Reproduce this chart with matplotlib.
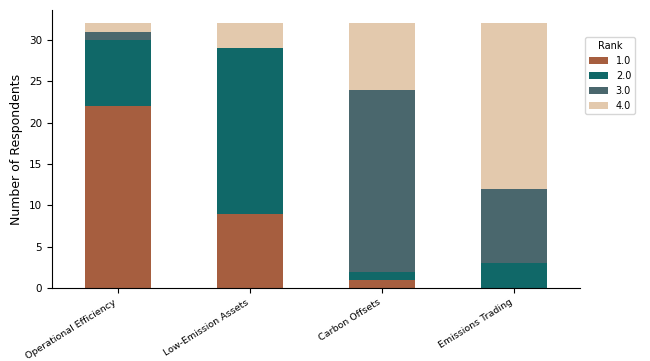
import numpy as np
import matplotlib.pyplot as plt

categories = ["Operational Efficiency", "Low-Emission Assets", "Carbon Offsets", "Emissions Trading"]
ranks = ["1.0", "2.0", "3.0", "4.0"]
rank1 = [22, 9, 1, 0]
rank2 = [8, 20, 1, 3]
rank3 = [1, 0, 22, 9]
rank4 = [1, 3, 8, 20]
colors = ["#A65E3F", "#106868", "#4A676D", "#E3C9AD"]

fig = plt.figure(figsize=(6.5, 3.61), dpi=100)
ax = fig.add_axes([0.08, 0.202, 0.812, 0.77])

x = np.arange(len(categories))
bottom = np.zeros(len(categories))
for label, vals, c in zip(ranks, [rank1, rank2, rank3, rank4], colors):
    ax.bar(x, vals, width=0.5, bottom=bottom, color=c, label=label)
    bottom += np.array(vals)

ax.set_xlim(-0.5, 3.5)
ax.set_ylim(0, 33.6)
ax.set_xticks(x)
ax.set_xticklabels(categories, rotation=32, ha="right", fontsize=6.8)
ax.tick_params(axis="y", labelsize=7.5)
ax.set_ylabel("Number of Respondents", fontsize=9)
ax.spines["top"].set_visible(False)
ax.spines["right"].set_visible(False)

ax.legend(title="Rank", fontsize=7, title_fontsize=7,
          loc="upper left", bbox_to_anchor=(1.0, 0.92))

fig.savefig("out.png", dpi=100)
